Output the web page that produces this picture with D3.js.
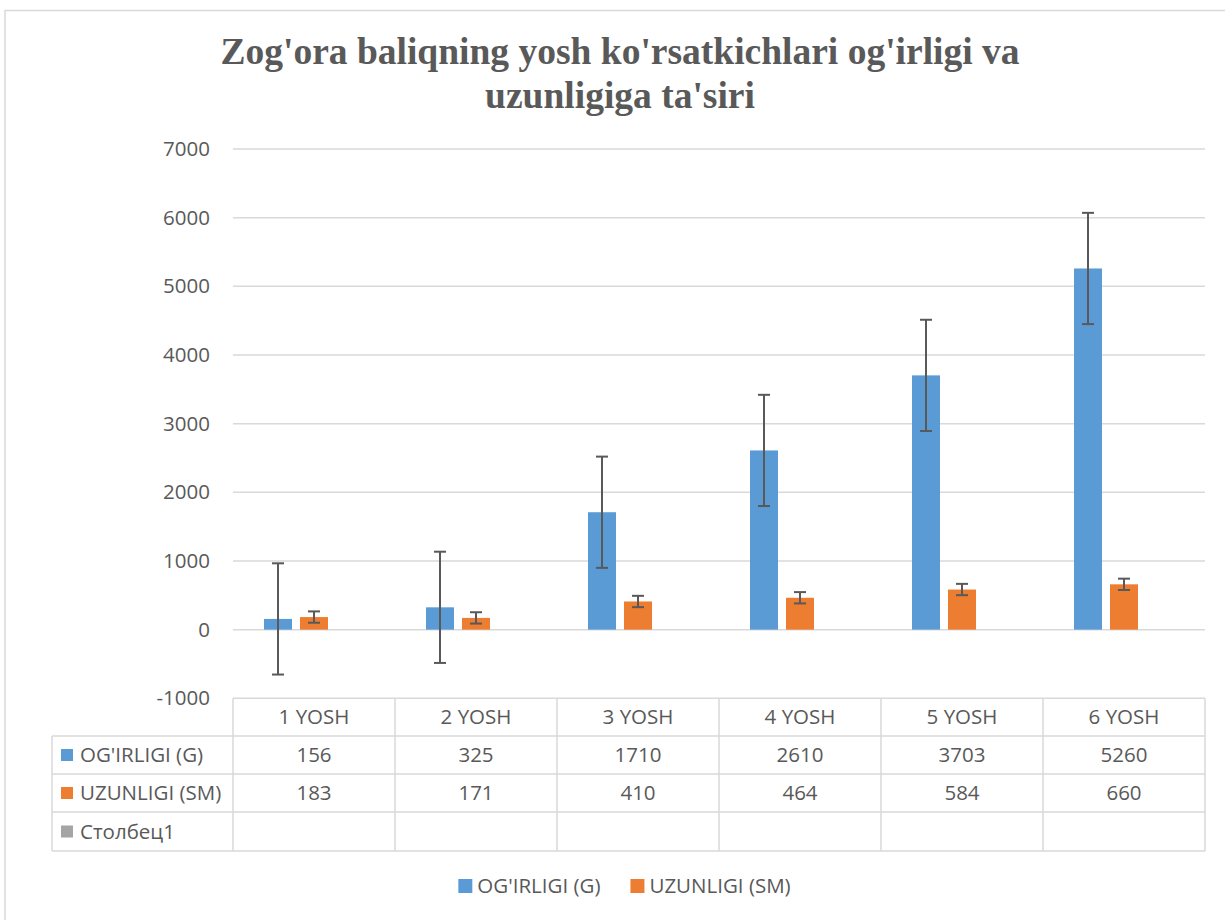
<!DOCTYPE html>
<html>
<head>
<meta charset="utf-8">
<script src="https://cdn.jsdelivr.net/npm/d3@7"></script>
<style>
	html, body { margin: 0; padding: 0; background: #ffffff; overflow: hidden; }
	#chart { width: 1225px; height: 920px; }
</style>
</head>
<body>
<div id="chart"></div>
<script>
/* zog'ora chart */

var titleLines = ["Zog'ora baliqning yosh ko'rsatkichlari og'irligi va", "uzunligiga ta'siri"];
var categories = ["1 YOSH", "2 YOSH", "3 YOSH", "4 YOSH", "5 YOSH", "6 YOSH"];
var seriesNames = ["OG'IRLIGI (G)", "UZUNLIGI (SM)", "Столбец1"];
var weightValues = [156, 325, 1710, 2610, 3703, 5260];
var lengthValues = [183, 171, 410, 464, 584, 660];
var emptyValues = [null, null, null, null, null, null];
var weightError = 810;   // standard error bar
var lengthError = 82.5;
var yTicks = [-1000, 0, 1000, 2000, 3000, 4000, 5000, 6000, 7000];

var chart = {
	colors: ["#5b9bd5", "#ed7d31", "#a5a5a5"],
	grid: "#d9d9d9",
	textColor: "#595959",
	font: "'Open Sans', sans-serif",
	fontSize: "20.5px",

	render: function() {
		var w = 1225;
		var h = 920;

		var g = d3.select("#chart").append("svg")
			.attr("width", w)
			.attr("height", h);

		// outer chart border
		g.append("rect")
			.attr("x", 5)
			.attr("y", 10.5)
			.attr("width", 1240)
			.attr("height", 930)
			.attr("fill", "none")
			.style("stroke", chart.grid)
			.style("stroke-width", 1.5);

		g.selectAll("text.title")
			.data(titleLines)
			.enter().append("text")
			.attr("class", "title")
			.attr("x", 620)
			.attr("y", function(d, i) { return 64 + i * 44; })
			.text(function(d) { return d; })
			.attr("font-family", "'Liberation Serif', 'Times New Roman', serif")
			.attr("font-weight", "bold")
			.attr("font-size", "37.5px")
			.attr("fill", chart.textColor)
			.style("text-anchor", "middle");

		var x0 = d3.scaleBand()
			.domain(categories)
			.range([233, 1205]);

		var x1 = d3.scaleBand()
			.domain(seriesNames)
			.range([31, 131])
			.paddingInner(8 / 36);

		var y = d3.scaleLinear()
			.domain([-1000, 7000])
			.range([698.3, 149]);

		chart.renderGrid(g, x0, y);
		chart.renderBars(g, x0, x1, y);
		chart.renderTable(g, x0, y);
		chart.renderLegend(g);
	},

	renderGrid: function(g, x0, y) {
		g.selectAll("line.grid")
			.data(yTicks.filter(function(t) { return t > -1000; }))
			.enter().append("line")
			.attr("class", "grid")
			.attr("x1", x0.range()[0])
			.attr("x2", x0.range()[1])
			.attr("y1", function(d) { return y(d); })
			.attr("y2", function(d) { return y(d); })
			.style("stroke", chart.grid)
			.style("stroke-width", 1.5);

		var axis = d3.axisLeft(y)
			.tickValues(yTicks)
			.tickSize(0)
			.tickPadding(23)
			.tickFormat(function(d) { return String(d); });

		var ax = g.append("g")
			.attr("transform", "translate(" + x0.range()[0] + ",0)")
			.call(axis);
		ax.select(".domain").remove();
		ax.selectAll("text")
			.attr("font-family", chart.font)
			.attr("font-size", chart.fontSize)
			.attr("fill", chart.textColor);
	},

	renderBars: function(g, x0, x1, y) {
		var series = [
			{ name: seriesNames[0], values: weightValues, err: weightError },
			{ name: seriesNames[1], values: lengthValues, err: lengthError },
			{ name: seriesNames[2], values: emptyValues, err: 0 }
		];

		for (var s = 0; s < series.length; s++) {
			var ser = series[s];
			var pts = [];
			for (var i = 0; i < categories.length; i++) {
				if (ser.values[i] != null) {
					pts.push({ cat: categories[i], v: ser.values[i], err: ser.err });
				}
			}

			var sg = g.append("g");

			sg.selectAll("rect")
				.data(pts)
				.enter().append("rect")
				.attr("x", function(d) { return x0(d.cat) + x1(ser.name); })
				.attr("y", function(d) { return y(d.v); })
				.attr("width", x1.bandwidth())
				.attr("height", function(d) { return y(0) - y(d.v); })
				.attr("fill", chart.colors[s]);

			var cx = function(d) { return x0(d.cat) + x1(ser.name) + x1.bandwidth() / 2; };

			// error bars
			sg.selectAll("line.err")
				.data(pts)
				.enter().append("line")
				.attr("class", "err")
				.attr("x1", cx)
				.attr("x2", cx)
				.attr("y1", function(d) { return y(d.v + d.err); })
				.attr("y2", function(d) { return y(d.v - d.err); })
				.style("stroke", chart.textColor)
				.style("stroke-width", 2);

			[1, -1].forEach(function(sign) {
				sg.selectAll("line.cap" + sign)
					.data(pts)
					.enter().append("line")
					.attr("x1", function(d) { return cx(d) - 6; })
					.attr("x2", function(d) { return cx(d) + 6; })
					.attr("y1", function(d) { return y(d.v + sign * d.err); })
					.attr("y2", function(d) { return y(d.v + sign * d.err); })
					.style("stroke", chart.textColor)
					.style("stroke-width", 2);
			});
		}
	},

	renderTable: function(g, x0, y) {
		var left = 52;
		var right = x0.range()[1];
		var top = y(-1000);
		var rowTops = [top, 736, 774, 812, 851];
		var rows = [weightValues, lengthValues, emptyValues];

		var lineStyle = function(sel) {
			sel.style("stroke", chart.grid).style("stroke-width", 1.5);
		};

		// horizontal lines
		g.append("line")
			.attr("x1", x0.range()[0]).attr("x2", right)
			.attr("y1", top).attr("y2", top)
			.call(lineStyle);
		for (var r = 1; r < rowTops.length; r++) {
			g.append("line")
				.attr("x1", left).attr("x2", right)
				.attr("y1", rowTops[r]).attr("y2", rowTops[r])
				.call(lineStyle);
		}

		// vertical lines
		g.append("line")
			.attr("x1", left).attr("x2", left)
			.attr("y1", rowTops[1]).attr("y2", rowTops[4])
			.call(lineStyle);
		var edges = categories.map(function(c) { return x0(c); }).concat([right]);
		edges.forEach(function(ex) {
			g.append("line")
				.attr("x1", ex).attr("x2", ex)
				.attr("y1", top).attr("y2", rowTops[4])
				.call(lineStyle);
		});

		var cellText = function(tx, ty, txt, anchor) {
			g.append("text")
				.attr("x", tx)
				.attr("y", ty)
				.attr("dy", "0.35em")
				.text(txt)
				.attr("font-family", chart.font)
				.attr("font-size", chart.fontSize)
				.attr("fill", chart.textColor)
				.style("text-anchor", anchor);
		};

		// header
		categories.forEach(function(c) {
			cellText(x0(c) + x0.bandwidth() / 2, (rowTops[0] + rowTops[1]) / 2, c, "middle");
		});

		for (var k = 0; k < rows.length; k++) {
			var cy = (rowTops[k + 1] + rowTops[k + 2]) / 2;
			g.append("rect")
				.attr("x", 61)
				.attr("y", cy - 6)
				.attr("width", 12)
				.attr("height", 12)
				.attr("fill", chart.colors[k]);
			cellText(80, cy, seriesNames[k], "start");
			for (var i = 0; i < categories.length; i++) {
				if (rows[k][i] != null) {
					cellText(x0(categories[i]) + x0.bandwidth() / 2, cy, rows[k][i], "middle");
				}
			}
		}
	},

	renderLegend: function(g) {
		var names = seriesNames.slice(0, 2);
		var cy = 886;
		var items = g.append("g");
		var xpos = 0;

		names.forEach(function(n, i) {
			var it = items.append("g").attr("transform", "translate(" + xpos + ",0)");
			it.append("rect")
				.attr("x", 0)
				.attr("y", cy - 7)
				.attr("width", 14)
				.attr("height", 14)
				.attr("fill", chart.colors[i]);
			var t = it.append("text")
				.attr("x", 19)
				.attr("y", cy)
				.attr("dy", "0.35em")
				.text(n)
				.attr("font-family", chart.font)
				.attr("font-size", chart.fontSize)
				.attr("fill", chart.textColor);
			var tw = t.node().getComputedTextLength();
			xpos += 19 + tw + 30;
		});

		var total = xpos - 30;
		items.attr("transform", "translate(" + (624.5 - total / 2) + ",0)");
	}
};

chart.render();
</script>
</body>
</html>
